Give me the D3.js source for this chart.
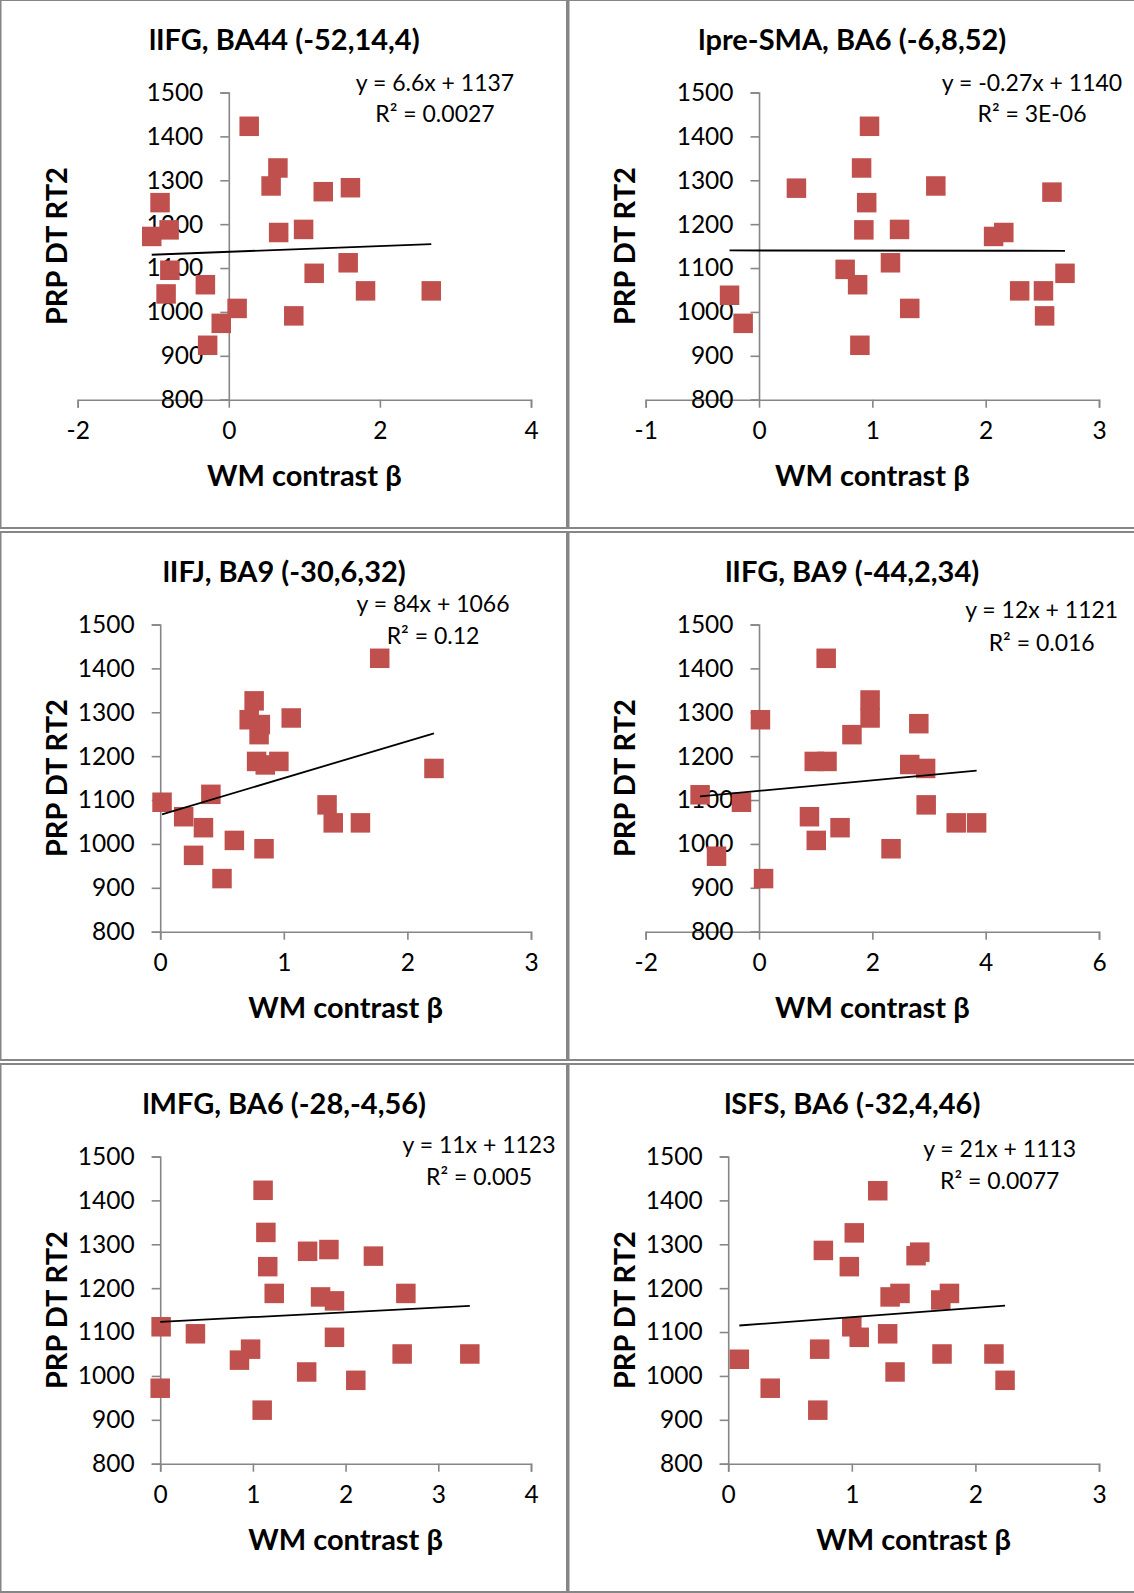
<!DOCTYPE html>
<html>
<head>
<meta charset="utf-8">
<script src="https://cdn.jsdelivr.net/npm/d3@7"></script>
<style>
  html, body { margin: 0; padding: 0; background: #fff; }
  svg { display: block; }
  text { font-family: Lato, "Open Sans", sans-serif; fill: #000; }
</style>
</head>
<body>
<script>
// ---------------- data ----------------
const titles = [
  "lIFG, BA44 (-52,14,4)",
  "lpre-SMA, BA6 (-6,8,52)",
  "lIFJ, BA9 (-30,6,32)",
  "lIFG, BA9 (-44,2,34)",
  "lMFG, BA6 (-28,-4,56)",
  "lSFS, BA6 (-32,4,46)"
];
const xAxisTitle = "WM contrast \u03B2";
const yAxisTitle = "PRP DT RT2";

const xDomains = [[-2, 4], [-1, 3], [0, 3], [-2, 6], [0, 4], [0, 3]];
const xTicks = [[-2, 0, 2, 4], [-1, 0, 1, 2, 3], [0, 1, 2, 3], [-2, 0, 2, 4, 6], [0, 1, 2, 3, 4], [0, 1, 2, 3]];
const yDomain = [800, 1500];
const yTicks = [800, 900, 1000, 1100, 1200, 1300, 1400, 1500];

const slopes = [6.6, -0.27, 84, 12, 11, 21];
const intercepts = [1137, 1140, 1066, 1121, 1123, 1113];
const eqLabels = ["y = 6.6x + 1137", "y = -0.27x + 1140", "y = 84x + 1066", "y = 12x + 1121", "y = 11x + 1123", "y = 21x + 1113"];
const r2Labels = ["R\u00B2 = 0.0027", "R\u00B2 = 3E-06", "R\u00B2 = 0.12", "R\u00B2 = 0.016", "R\u00B2 = 0.005", "R\u00B2 = 0.0077"];

const p1X = [0.27, 0.65, 0.56, 1.25, 1.61, -0.91, -0.79, -1.02, 0.66, 0.99, 1.58, -0.78, 1.13, -0.31, -0.83, 1.81, 2.68, 0.11, -0.10, 0.86, -0.28];
const p1Y = [1423, 1328, 1287, 1274, 1283, 1249, 1187, 1172, 1181, 1188, 1112, 1095, 1088, 1062, 1041, 1048, 1048, 1008, 974, 991, 924];
const p2X = [0.975, 0.905, 0.33, 1.56, 2.585, 0.95, 0.925, 1.24, 2.16, 2.07, 0.76, 1.16, 2.70, 0.87, -0.26, 2.30, 2.51, 1.33, -0.14, 2.52, 0.89];
const p2Y = [1423, 1328, 1282, 1287, 1273, 1249, 1187, 1188, 1181, 1172, 1097, 1112, 1088, 1062, 1038, 1048, 1048, 1008, 974, 991, 924];
const p3X = [1.776, 0.76, 0.72, 0.81, 1.06, 0.80, 0.78, 0.96, 0.85, 2.215, 0.015, 0.41, 1.35, 0.19, 0.35, 1.40, 1.62, 0.60, 0.27, 0.84, 0.50];
const p3Y = [1423, 1326, 1283, 1272, 1287, 1249, 1188, 1188, 1180, 1172, 1095, 1113, 1089, 1062, 1037, 1048, 1048, 1008, 974, 989, 921];
const p4X = [1.185, 1.96, 1.96, 0.025, 2.82, 1.64, 0.975, 1.20, 2.66, 2.94, -1.04, -0.31, 2.95, 0.89, 1.43, 3.48, 3.84, 1.01, -0.75, 2.33, 0.08];
const p4Y = [1423, 1328, 1287, 1283, 1274, 1249, 1188, 1188, 1181, 1172, 1112, 1095, 1089, 1062, 1037, 1048, 1048, 1008, 972, 989, 921];
const p5X = [1.11, 1.14, 1.59, 1.82, 2.30, 1.16, 1.23, 1.73, 1.88, 2.65, 0.01, 0.38, 1.88, 0.975, 0.855, 2.61, 3.34, 1.58, 0.0, 2.11, 1.10];
const p5Y = [1423, 1327, 1284, 1288, 1273, 1249, 1188, 1180, 1171, 1188, 1112, 1096, 1088, 1061, 1036, 1050, 1050, 1009, 972, 990, 922];
const p6X = [1.21, 1.02, 0.77, 1.52, 1.55, 0.98, 1.31, 1.39, 1.72, 1.79, 1.00, 1.29, 1.06, 0.74, 0.09, 1.73, 2.15, 1.35, 0.34, 2.24, 0.725];
const p6Y = [1422, 1326, 1286, 1274, 1282, 1249, 1180, 1188, 1173, 1188, 1112, 1096, 1088, 1061, 1038, 1050, 1050, 1009, 972, 990, 922];

const seriesX = [p1X, p2X, p3X, p4X, p5X, p6X];
const seriesY = [p1Y, p2Y, p3Y, p4Y, p5Y, p6Y];

// ---------------- layout ----------------
const W = 1134, H = 1593;
const colX = [0, 568];
const rowY = [0, 532, 1064];
const panelW = 566.5, panelH = 528;
const plotTop = 92.5, plotBottom = 399.7, plotRight = 531;
const plotLefts = [77.7, 77.7, 160.2, 77.7, 160.2, 160.2];
const eqPos = [[435, 90.6, 121.7], [464, 90.6, 121.7], [433, 79.8, 111.6], [473.7, 86.2, 119], [479, 89, 121.3], [431.7, 92.5, 124.7]];

const gridColor = "#868686";
const markerColor = "#C0504D";
const markerSize = 19.5;
const tickFont = 24.5, eqFont = 23, titleFont = 29, axisTitleFont = 29;

const svg = d3.select("body").append("svg")
  .attr("width", W).attr("height", H);

svg.append("rect").attr("width", W).attr("height", H).attr("fill", "#fff");

for (let i = 0; i < 6; i++) {
  const ox = colX[i % 2], oy = rowY[Math.floor(i / 2)];
  const g = svg.append("g").attr("transform", `translate(${ox},${oy})`);

  // panel border
  g.append("rect")
    .attr("x", 0.5).attr("y", 0)
    .attr("width", panelW).attr("height", panelH)
    .attr("fill", "none").attr("stroke", gridColor).attr("stroke-width", 2);

  const x = d3.scaleLinear().domain(xDomains[i]).range([plotLefts[i], plotRight]);
  const y = d3.scaleLinear().domain(yDomain).range([plotBottom, plotTop]);

  const yAxisX = x(Math.max(0, xDomains[i][0]));

  // x axis at y=800
  const xAxis = d3.axisBottom(x).tickValues(xTicks[i]).tickSize(8).tickPadding(14)
    .tickFormat(d3.format("d"));
  const gx = g.append("g").attr("transform", `translate(0,${y(yDomain[0])})`).call(xAxis);
  gx.select(".domain").attr("stroke", gridColor).attr("stroke-width", 1.6);
  gx.selectAll(".tick line").attr("stroke", gridColor).attr("stroke-width", 1.6);
  gx.selectAll(".tick text").attr("font-size", tickFont).attr("font-family", "Lato").attr("fill", "#000")
    .text(d => d < 0 ? "-" + Math.abs(d) : d);

  // y axis at x=0 (or at left)
  const yAxis = d3.axisLeft(y).tickValues(yTicks).tickSize(8.5).tickPadding(17)
    .tickFormat(d3.format("d"));
  const gy = g.append("g").attr("transform", `translate(${yAxisX},0)`).call(yAxis);
  gy.select(".domain").attr("stroke", gridColor).attr("stroke-width", 1.6);
  gy.selectAll(".tick line").attr("stroke", gridColor).attr("stroke-width", 1.6);
  gy.selectAll(".tick text").attr("font-size", tickFont).attr("font-family", "Lato").attr("fill", "#000");

  // markers
  const pts = seriesX[i].map((vx, k) => ({ x: vx, y: seriesY[i][k] }));
  g.append("g").selectAll("rect").data(pts).join("rect")
    .attr("x", d => x(d.x) - markerSize / 2)
    .attr("y", d => y(d.y) - markerSize / 2)
    .attr("width", markerSize).attr("height", markerSize)
    .attr("fill", markerColor);

  // trend line over data x-range
  const [xmin, xmax] = d3.extent(seriesX[i]);
  const line = d3.line().x(d => x(d)).y(d => y(slopes[i] * d + intercepts[i]));
  g.append("path").datum([xmin, xmax]).attr("d", line)
    .attr("fill", "none").attr("stroke", "#000").attr("stroke-width", 1.8);

  // equation labels
  g.append("text").attr("x", eqPos[i][0]).attr("y", eqPos[i][1])
    .attr("text-anchor", "middle").attr("font-size", eqFont).text(eqLabels[i]);
  g.append("text").attr("x", eqPos[i][0]).attr("y", eqPos[i][2])
    .attr("text-anchor", "middle").attr("font-size", eqFont).text(r2Labels[i]);

  // title
  g.append("text").attr("x", 284.3).attr("y", 50)
    .attr("text-anchor", "middle").attr("font-size", titleFont).attr("font-weight", 700)
    .text(titles[i]);

  // x axis title
  g.append("text").attr("x", (plotLefts[i] + plotRight) / 2).attr("y", 486)
    .attr("text-anchor", "middle").attr("font-size", axisTitleFont).attr("font-weight", 700)
    .text(xAxisTitle);

  // y axis title
  g.append("text")
    .attr("transform", `translate(67,${(plotTop + plotBottom) / 2}) rotate(-90)`)
    .attr("text-anchor", "middle").attr("font-size", axisTitleFont).attr("font-weight", 700)
    .text(yAxisTitle);
}
</script>
</body>
</html>
